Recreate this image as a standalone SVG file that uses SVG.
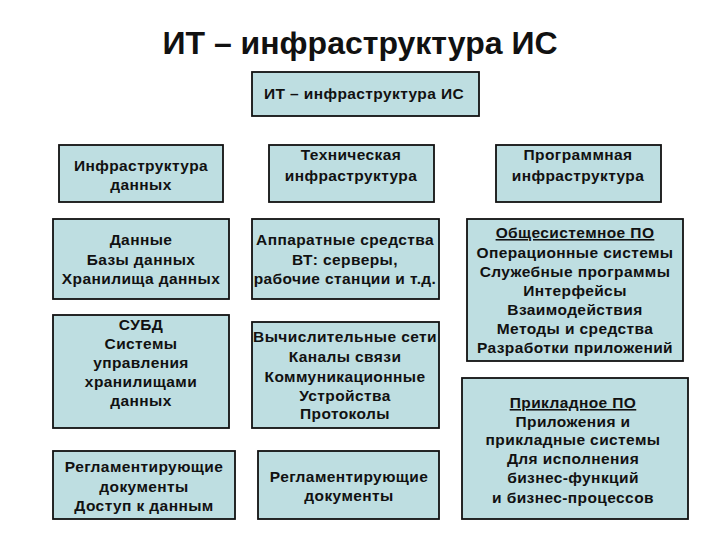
<svg xmlns="http://www.w3.org/2000/svg" width="720" height="540" viewBox="0 0 720 540">
<style>
.box{fill:#BEDEE1;stroke:#111;stroke-width:1.8}
.t{font-family:"Liberation Sans",Arial,sans-serif;font-weight:bold;font-size:15.5px;letter-spacing:0.4px;fill:#111;text-anchor:middle}
.title{font-family:"Liberation Sans",Arial,sans-serif;font-weight:bold;font-size:32px;fill:#111;text-anchor:middle}
.u{text-decoration:underline}
</style>
<rect width="720" height="540" fill="#fff"/>
<text class="title" x="360" y="54">ИТ – инфраструктура ИС</text>
<g id="connectors"></g>
<g id="root">
<rect class="box" x="252" y="72" width="227" height="44"/>
<text class="t" x="364" y="99">ИТ – инфраструктура ИС</text>
</g>
<g id="data-infra">
<rect class="box" x="59" y="145" width="164" height="57"/>
<text class="t" x="141" y="171">Инфраструктура</text>
<text class="t" x="141" y="190">данных</text>
</g>
<g id="tech-infra">
<rect class="box" x="269" y="145" width="165" height="57"/>
<text class="t" x="351" y="160">Техническая</text>
<text class="t" x="351" y="181">инфраструктура</text>
</g>
<g id="soft-infra">
<rect class="box" x="496" y="145" width="165" height="57"/>
<text class="t" x="578" y="160">Программная</text>
<text class="t" x="578" y="181">инфраструктура</text>
</g>
<g id="data">
<rect class="box" x="53" y="219" width="176" height="80"/>
<text class="t" x="141" y="245">Данные</text>
<text class="t" x="141" y="265">Базы данных</text>
<text class="t" x="141" y="284">Хранилища данных</text>
</g>
<g id="hardware">
<rect class="box" x="252" y="219" width="187" height="80"/>
<text class="t" x="345" y="245">Аппаратные средства</text>
<text class="t" x="345" y="265">ВТ: серверы,</text>
<text class="t" x="345" y="284">рабочие станции и т.д.</text>
</g>
<g id="system-software">
<rect class="box" x="467" y="219" width="216" height="142"/>
<text class="t u" x="575" y="238">Общесистемное ПО</text>
<text class="t" x="575" y="258">Операционные системы</text>
<text class="t" x="575" y="277">Служебные программы</text>
<text class="t" x="575" y="296">Интерфейсы</text>
<text class="t" x="575" y="315">Взаимодействия</text>
<text class="t" x="575" y="334">Методы и средства</text>
<text class="t" x="575" y="353">Разработки приложений</text>
</g>
<g id="dbms">
<rect class="box" x="53" y="315" width="176" height="113"/>
<text class="t" x="141" y="330">СУБД</text>
<text class="t" x="141" y="349">Системы</text>
<text class="t" x="141" y="368">управления</text>
<text class="t" x="141" y="387">хранилищами</text>
<text class="t" x="141" y="406">данных</text>
</g>
<g id="networks">
<rect class="box" x="252" y="322" width="187" height="106"/>
<text class="t" x="345" y="342">Вычислительные сети</text>
<text class="t" x="345" y="362">Каналы связи</text>
<text class="t" x="345" y="382">Коммуникационные</text>
<text class="t" x="345" y="401">Устройства</text>
<text class="t" x="345" y="419">Протоколы</text>
</g>
<g id="reg-data">
<rect class="box" x="53" y="451" width="182" height="68"/>
<text class="t" x="144" y="472">Регламентирующие</text>
<text class="t" x="144" y="492">документы</text>
<text class="t" x="144" y="511">Доступ к данным</text>
</g>
<g id="reg-tech">
<rect class="box" x="258" y="451" width="181" height="68"/>
<text class="t" x="349" y="482">Регламентирующие</text>
<text class="t" x="349" y="501">документы</text>
</g>
<g id="app-software">
<rect class="box" x="462" y="378" width="226" height="141"/>
<text class="t u" x="573" y="408">Прикладное ПО</text>
<text class="t" x="573" y="427">Приложения и</text>
<text class="t" x="573" y="445">прикладные системы</text>
<text class="t" x="573" y="464">Для исполнения</text>
<text class="t" x="573" y="483">бизнес-функций</text>
<text class="t" x="573" y="503">и бизнес-процессов</text>
</g>
</svg>
